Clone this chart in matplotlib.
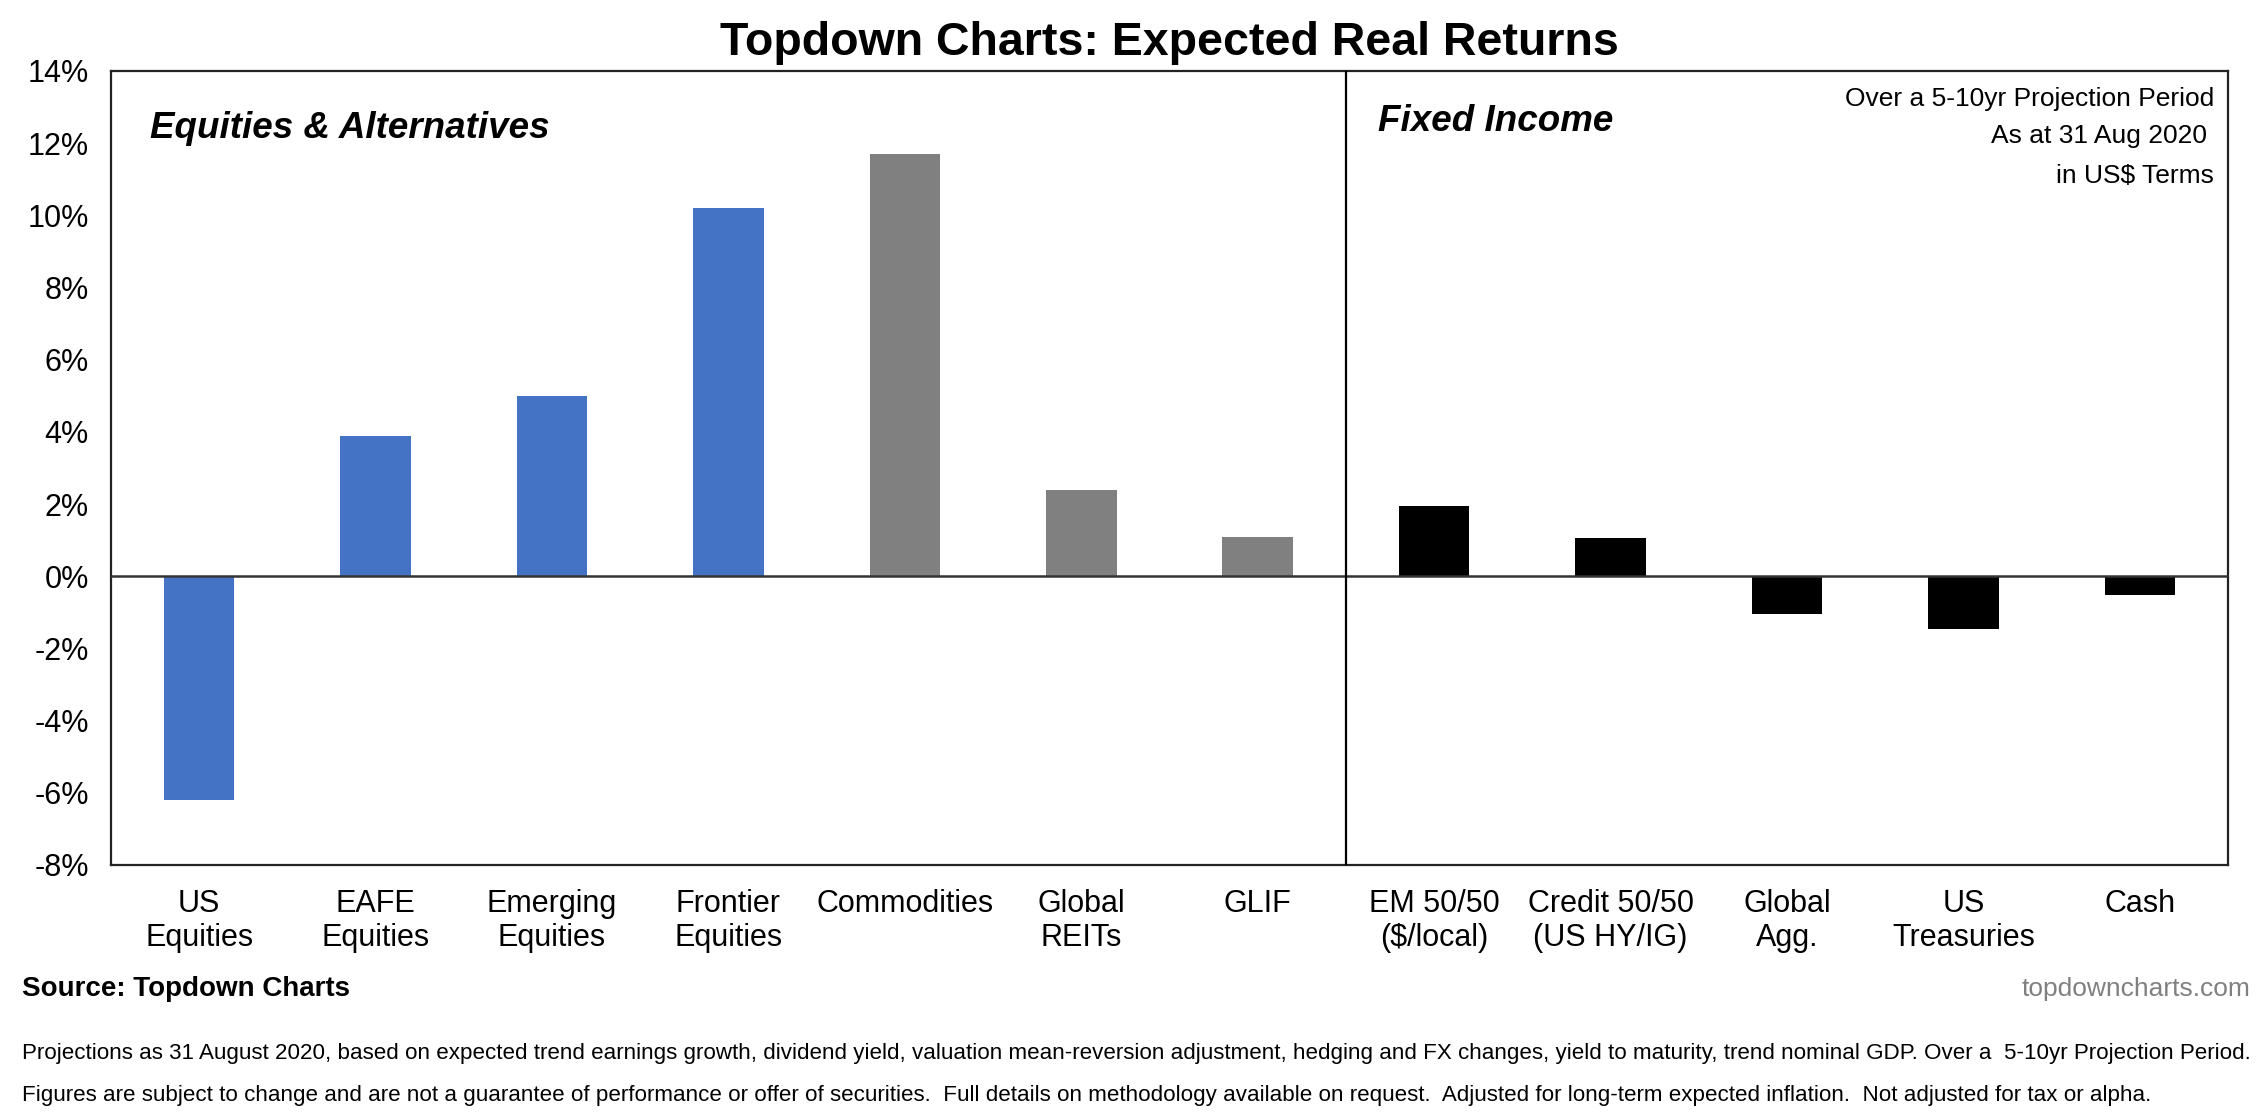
import matplotlib
matplotlib.use("Agg")
import matplotlib.pyplot as plt
from matplotlib.ticker import FuncFormatter

plt.rcParams['font.family'] = ['Liberation Sans', 'DejaVu Sans']

# Chart data
categories = ['US\nEquities', 'EAFE\nEquities', 'Emerging\nEquities', 'Frontier\nEquities',
              'Commodities', 'Global\nREITs', 'GLIF',
              'EM 50/50\n($/local)', 'Credit 50/50\n(US HY/IG)', 'Global\nAgg.',
              'US\nTreasuries', 'Cash']
returns = [-6.2, 3.9, 5.0, 10.2, 11.7, 2.4, 1.1, 1.95, 1.05, -1.05, -1.45, -0.52]
groups = ['equity', 'equity', 'equity', 'equity', 'alt', 'alt', 'alt',
          'fixed', 'fixed', 'fixed', 'fixed', 'fixed']
group_colors = {'equity': '#4472C4', 'alt': '#808080', 'fixed': '#000000'}
yticks = [-8, -6, -4, -2, 0, 2, 4, 6, 8, 10, 12, 14]

W, H = 2268, 1119
fig = plt.figure(figsize=(W / 100, H / 100), dpi=100)
ax = fig.add_axes([111 / W, 1 - 865 / H, (2228 - 111) / W, (865 - 71) / H])

x = [i + 0.5 for i in range(len(categories))]
colors = [group_colors[g] for g in groups]
ax.bar(x, returns, width=0.4, color=colors, zorder=2)

ax.set_xlim(0, len(categories))
ax.set_ylim(-8, 14)
ax.set_yticks(yticks)
ax.yaxis.set_major_formatter(FuncFormatter(lambda v, p: '%d%%' % v))
ax.set_xticks(x)
ax.set_xticklabels(categories, fontsize=22, linespacing=1.2)
ax.tick_params(axis='both', length=0, labelsize=22)
ax.tick_params(axis='x', pad=17)
ax.tick_params(axis='y', pad=16)

for s in ax.spines.values():
    s.set_color('#222222')
    s.set_linewidth(1.6)

# zero line and group divider
ax.axhline(0, color='#333333', linewidth=1.8, zorder=3)
ax.axvline(7, color='#000000', linewidth=1.6, zorder=3)

# section labels
ax.text(0.22, 12.42, 'Equities & Alternatives', fontsize=26.5, fontweight='bold',
        fontstyle='italic', va='center', ha='left')
ax.text(7.18, 12.59, 'Fixed Income', fontsize=26.5, fontweight='bold',
        fontstyle='italic', va='center', ha='left')

# notes
fig.text(1169 / W, 1 - 43 / H, 'Topdown Charts: Expected Real Returns',
         fontsize=33.5, fontweight='bold', ha='center', va='center')
fig.text(2214 / W, 1 - 99 / H, 'Over a 5-10yr Projection Period', fontsize=19, ha='right', va='center')
fig.text(2214 / W, 1 - 136 / H, 'As at 31 Aug 2020 ', fontsize=19, ha='right', va='center')
fig.text(2214 / W, 1 - 176 / H, 'in US$ Terms', fontsize=19, ha='right', va='center')

fig.text(22 / W, 1 - 989 / H, 'Source: Topdown Charts', fontsize=20, fontweight='bold',
         ha='left', va='center')
fig.text(2250 / W, 1 - 989 / H, 'topdowncharts.com', fontsize=19, color='#808080',
         ha='right', va='center')
fig.text(22 / W, 1 - 1053 / H,
         'Projections as 31 August 2020, based on expected trend earnings growth, dividend yield, '
         'valuation mean-reversion adjustment, hedging and FX changes, yield to maturity, trend '
         'nominal GDP. Over a  5-10yr Projection Period.', fontsize=16.1, ha='left', va='center')
fig.text(22 / W, 1 - 1095 / H,
         'Figures are subject to change and are not a guarantee of performance or offer of securities.  '
         'Full details on methodology available on request.  Adjusted for long-term expected inflation.  '
         'Not adjusted for tax or alpha.', fontsize=16.1, ha='left', va='center')

fig.savefig('out.png', dpi=100)
